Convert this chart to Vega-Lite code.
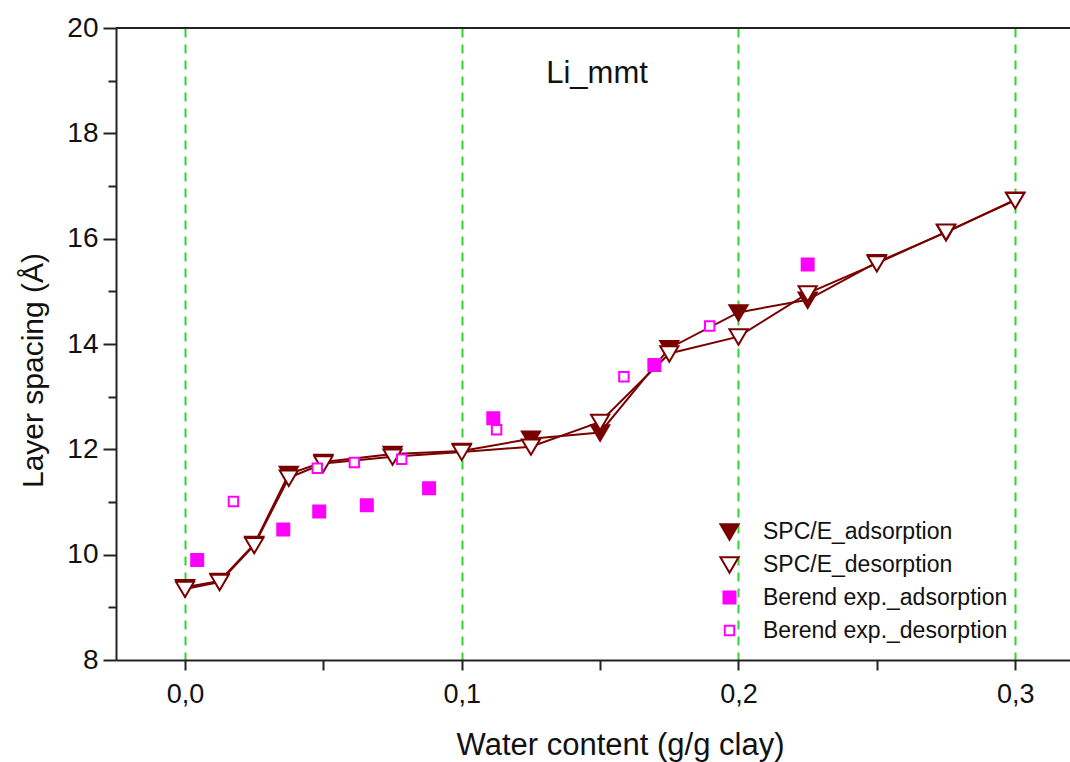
{
  "$schema": "https://vega.github.io/schema/vega-lite/v6.json",
  "width": 954,
  "height": 632,
  "autosize": "none",
  "padding": {"left": 116, "top": 28, "right": 0, "bottom": 102},
  "background": "white",
  "title": {"text": "Li_mmt", "offset": -76, "fontSize": 31, "font": "Liberation Sans", "fontWeight": "normal", "color": "#111111", "anchor": "middle", "frame": "group", "dx": 4},
  "config": {
    "view": {"stroke": null},
    "font": "Liberation Sans",
    "axis": {"labelFont": "Liberation Sans", "titleFont": "Liberation Sans", "titleFontWeight": "normal", "domainColor": "#222222", "domainWidth": 2, "tickColor": "#222222", "tickWidth": 2, "labelColor": "#111111", "titleColor": "#111111"},
    "legend": {
      "title": null, "orient": "none", "legendX": 602, "legendY": 492,
      "padding": 0, "labelFontSize": 23, "labelFont": "Liberation Sans", "labelColor": "#111111",
      "labelOffset": 22, "labelLimit": 0, "rowPadding": 9, "symbolStrokeWidth": 2, "symbolSize": 330
    }
  },
  "data": {
    "values": [
      {"series": "SPC/E_adsorption", "x": 0, "y": 9.38},
      {"series": "SPC/E_adsorption", "x": 0.0125, "y": 9.5},
      {"series": "SPC/E_adsorption", "x": 0.025, "y": 10.2},
      {"series": "SPC/E_adsorption", "x": 0.0375, "y": 11.53},
      {"series": "SPC/E_adsorption", "x": 0.05, "y": 11.76},
      {"series": "SPC/E_adsorption", "x": 0.075, "y": 11.91},
      {"series": "SPC/E_adsorption", "x": 0.1, "y": 11.97},
      {"series": "SPC/E_adsorption", "x": 0.125, "y": 12.2},
      {"series": "SPC/E_adsorption", "x": 0.15, "y": 12.32},
      {"series": "SPC/E_adsorption", "x": 0.175, "y": 13.92},
      {"series": "SPC/E_adsorption", "x": 0.2, "y": 14.6},
      {"series": "SPC/E_adsorption", "x": 0.225, "y": 14.84},
      {"series": "SPC/E_adsorption", "x": 0.25, "y": 15.55},
      {"series": "SPC/E_adsorption", "x": 0.275, "y": 16.12},
      {"series": "SPC/E_adsorption", "x": 0.3, "y": 16.74},
      {"series": "SPC/E_desorption", "x": 0, "y": 9.35},
      {"series": "SPC/E_desorption", "x": 0.0125, "y": 9.48},
      {"series": "SPC/E_desorption", "x": 0.025, "y": 10.18},
      {"series": "SPC/E_desorption", "x": 0.0375, "y": 11.46},
      {"series": "SPC/E_desorption", "x": 0.05, "y": 11.73},
      {"series": "SPC/E_desorption", "x": 0.075, "y": 11.86},
      {"series": "SPC/E_desorption", "x": 0.1, "y": 11.95},
      {"series": "SPC/E_desorption", "x": 0.125, "y": 12.05},
      {"series": "SPC/E_desorption", "x": 0.15, "y": 12.52},
      {"series": "SPC/E_desorption", "x": 0.175, "y": 13.82},
      {"series": "SPC/E_desorption", "x": 0.2, "y": 14.14},
      {"series": "SPC/E_desorption", "x": 0.225, "y": 14.96},
      {"series": "SPC/E_desorption", "x": 0.25, "y": 15.53},
      {"series": "SPC/E_desorption", "x": 0.275, "y": 16.13},
      {"series": "SPC/E_desorption", "x": 0.3, "y": 16.73},
      {"series": "Berend exp._adsorption", "x": 0.0044, "y": 9.9},
      {"series": "Berend exp._adsorption", "x": 0.0355, "y": 10.48},
      {"series": "Berend exp._adsorption", "x": 0.0485, "y": 10.82},
      {"series": "Berend exp._adsorption", "x": 0.0657, "y": 10.94},
      {"series": "Berend exp._adsorption", "x": 0.0882, "y": 11.26},
      {"series": "Berend exp._adsorption", "x": 0.1114, "y": 12.59},
      {"series": "Berend exp._adsorption", "x": 0.1696, "y": 13.6},
      {"series": "Berend exp._adsorption", "x": 0.225, "y": 15.51},
      {"series": "Berend exp._desorption", "x": 0.0175, "y": 11.01},
      {"series": "Berend exp._desorption", "x": 0.0478, "y": 11.64},
      {"series": "Berend exp._desorption", "x": 0.0612, "y": 11.75},
      {"series": "Berend exp._desorption", "x": 0.0783, "y": 11.81},
      {"series": "Berend exp._desorption", "x": 0.1126, "y": 12.37},
      {"series": "Berend exp._desorption", "x": 0.1586, "y": 13.38},
      {"series": "Berend exp._desorption", "x": 0.1896, "y": 14.34}
    ]
  },
  "encoding": {
    "x": {
      "field": "x", "type": "quantitative",
      "scale": {"domain": [-0.02494, 0.3198], "nice": false, "zero": false},
      "axis": {
        "title": "Water content (g/g clay)",
        "titleFontSize": 31, "titlePadding": 23, "titleX": 504,
        "labelFontSize": 27, "labelPadding": 11,
        "values": [0, 0.05, 0.1, 0.15, 0.2, 0.25, 0.3],
        "labelExpr": "round(datum.value*20) % 2 == 1 ? '' : replace(format(datum.value, '.1f'), '.', ',')",
        "tickSize": 10,
        "grid": true,
        "gridColor": "#2fd42f",
        "gridWidth": 2,
        "gridDash": [9, 7],
        "gridOpacity": {"condition": {"test": "round(datum.value*20) % 2 == 1", "value": 0}, "value": 1}
      }
    },
    "y": {
      "field": "y", "type": "quantitative",
      "scale": {"domain": [8, 20], "nice": false, "zero": false},
      "axis": {
        "title": "Layer spacing (Å)",
        "titleFontSize": 30, "titlePadding": 18, "titleY": 342,
        "labelFontSize": 28, "labelPadding": 5,
        "values": [8, 9, 10, 11, 12, 13, 14, 15, 16, 17, 18, 19, 20],
        "labelExpr": "datum.value % 2 == 1 ? '' : datum.label",
        "tickSize": {"condition": {"test": "datum.value % 2 == 1", "value": 8}, "value": 13},
        "grid": false
      }
    }
  },
  "layer": [
    {
      "mark": {"type": "rule", "color": "#222222", "strokeWidth": 2},
      "encoding": {"y": {"datum": 20}, "x": null}
    },
    {
      "transform": [{"filter": "indexof(datum.series, 'SPC') == 0"}],
      "mark": {"type": "line", "color": "#7a0000", "strokeWidth": 2},
      "encoding": {"detail": {"field": "series"}, "order": {"field": "x"}}
    },
    {
      "mark": {"type": "point", "filled": false, "size": 330, "strokeWidth": 2, "opacity": 1},
      "encoding": {
        "shape": {
          "field": "series", "type": "nominal",
          "scale": {
            "domain": ["SPC/E_adsorption", "SPC/E_desorption", "Berend exp._adsorption", "Berend exp._desorption"],
            "range": ["M-1,-0.8L1,-0.8L0,0.9Z", "M-1,-0.8L1,-0.8L0,0.9Z", "M-0.66,-0.66H0.66V0.66H-0.66Z", "M-0.52,-0.52H0.52V0.52H-0.52Z"]
          }
        },
        "fill": {
          "field": "series", "type": "nominal",
          "scale": {
            "domain": ["SPC/E_adsorption", "SPC/E_desorption", "Berend exp._adsorption", "Berend exp._desorption"],
            "range": ["#7a0000", "#ffffff", "#ff00ff", "#ffffff"]
          }
        },
        "stroke": {
          "field": "series", "type": "nominal",
          "scale": {
            "domain": ["SPC/E_adsorption", "SPC/E_desorption", "Berend exp._adsorption", "Berend exp._desorption"],
            "range": ["#7a0000", "#7a0000", "#ff00ff", "#ff00ff"]
          }
        }
      }
    }
  ]
}
